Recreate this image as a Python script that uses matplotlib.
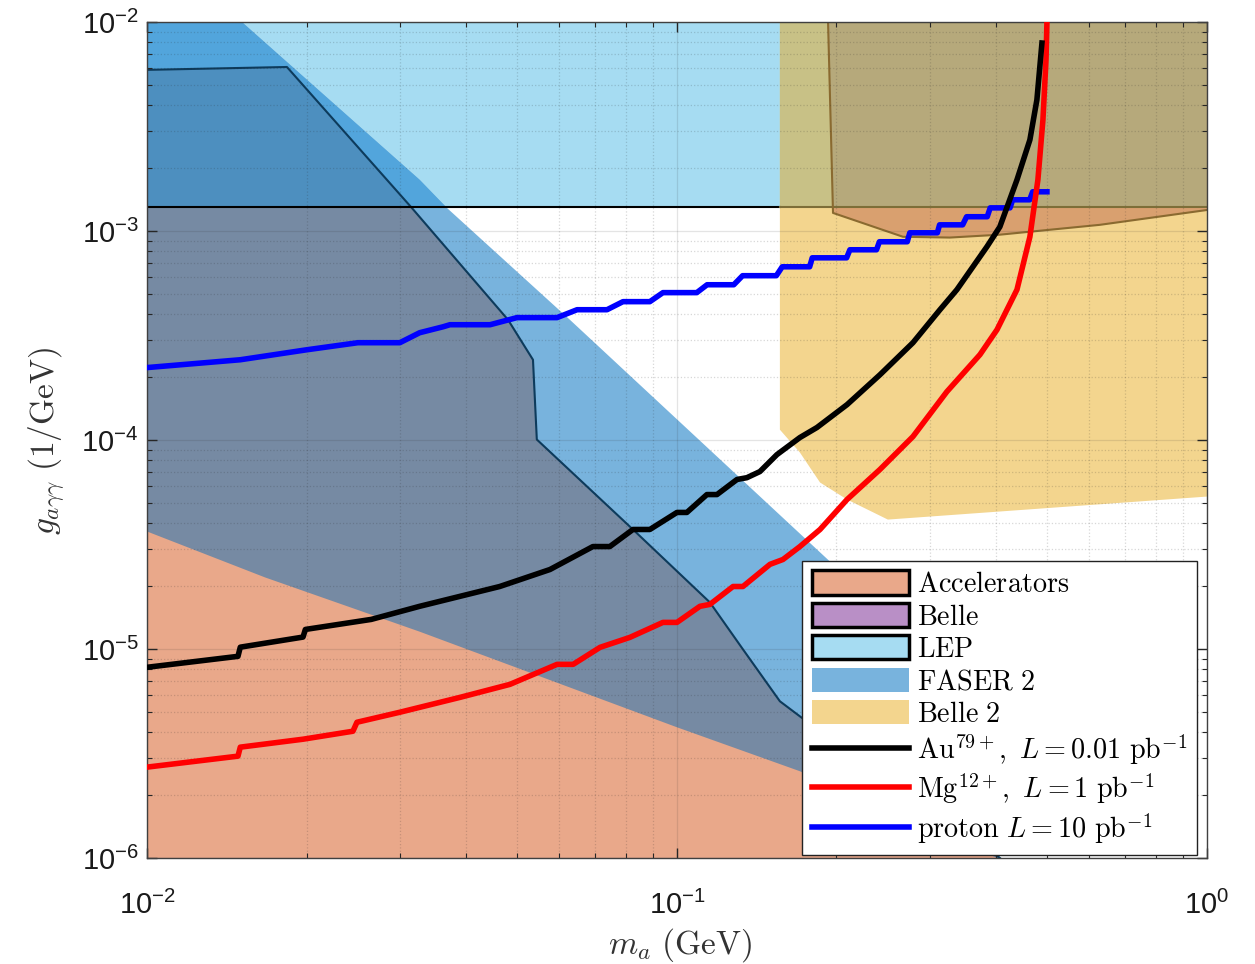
import numpy as np
import matplotlib.pyplot as plt
from matplotlib.patches import Patch, Rectangle
from matplotlib.lines import Line2D
from matplotlib.font_manager import FontProperties

plt.rcParams['font.family'] = ['Liberation Sans', 'DejaVu Sans']

# axis ranges
m_lim = (1e-2, 1.0)
g_lim = (1e-6, 1e-2)

# LEP bound (flat in m)
lep_g = 1.3e-3

# FASER 2 reach, upper diagonal edge
faser_m = [0.0151, 0.0327, 0.0368, 0.0628, 0.1862, 0.4067]
faser_g = [1.0e-2, 1.757e-3, 1.29e-3, 3.76e-4, 2.90e-5, 4.61e-6]

# beam dump excluded region, upper edge
dump_m = [0.01, 0.01837, 0.0316, 0.048, 0.0535, 0.0544, 0.0826, 0.1154, 0.1332, 0.1564, 0.1706, 0.2635, 0.4067]
dump_g = [5.9e-3, 6.09e-3, 1.29e-3, 3.76e-4, 2.42e-4, 1.005e-4, 3.73e-5, 1.67e-5, 9.96e-6, 5.62e-6, 4.76e-6, 2.13e-6, 1.0e-6]

# accelerators, upper edge
acc_m = [0.01, 0.0167, 0.0327, 0.100, 0.1706, 0.4017]
acc_g = [3.65e-5, 2.20e-5, 1.21e-5, 4.22e-6, 2.60e-6, 1.0e-6]

# Belle 2 reach, lower edge
belle2_m = [0.1564, 0.1564, 0.1706, 0.1862, 0.2094, 0.250, 1.0]
belle2_g = [1.0e-2, 1.12e-4, 8.71e-5, 6.26e-5, 5.19e-5, 4.16e-5, 5.36e-5]

# Belle, lower edge
belle_m = [0.1928, 0.197, 0.267, 0.3273, 0.4067, 0.628, 1.0]
belle_g = [1.0e-2, 1.22e-3, 9.38e-4, 9.3e-4, 9.6e-4, 1.07e-3, 1.26e-3]

# projected sensitivities
au_m = [0.010, 0.01485, 0.0150, 0.0197, 0.0199, 0.0265, 0.0327, 0.0463, 0.0576, 0.0694, 0.0747,
        0.0826, 0.0889, 0.100, 0.1044, 0.1139, 0.119, 0.1298, 0.1355, 0.1434, 0.1544, 0.1706,
        0.1837, 0.2094, 0.2415, 0.2788, 0.3135, 0.3375, 0.3845, 0.4067, 0.4381, 0.4634, 0.4777, 0.4883]
au_g = [8.17e-6, 9.22e-6, 1.02e-5, 1.14e-5, 1.24e-5, 1.385e-5, 1.60e-5, 1.99e-5, 2.40e-5, 3.09e-5, 3.09e-5,
        3.73e-5, 3.73e-5, 4.50e-5, 4.50e-5, 5.48e-5, 5.48e-5, 6.47e-5, 6.60e-5, 7.06e-5, 8.51e-5, 1.027e-4,
        1.147e-4, 1.476e-4, 2.05e-4, 2.92e-4, 4.20e-4, 5.24e-4, 8.41e-4, 1.047e-3, 1.757e-3, 2.73e-3, 4.24e-3, 7.93e-3]

mg_m = [0.010, 0.01485, 0.0150, 0.0197, 0.02447, 0.0249, 0.030, 0.039, 0.0484, 0.0594, 0.0637,
        0.0716, 0.0815, 0.0941, 0.100, 0.1105, 0.1154, 0.1276, 0.1332, 0.1498, 0.1585, 0.1706,
        0.1862, 0.2094, 0.2415, 0.2788, 0.3231, 0.373, 0.4017, 0.4381, 0.4634, 0.4798, 0.4904, 0.497, 0.499]
mg_g = [2.72e-6, 3.07e-6, 3.39e-6, 3.70e-6, 4.04e-6, 4.46e-6, 4.98e-6, 5.87e-6, 6.77e-6, 8.44e-6, 8.44e-6,
        1.018e-5, 1.136e-5, 1.34e-5, 1.34e-5, 1.60e-5, 1.634e-5, 1.99e-5, 1.99e-5, 2.54e-5, 2.68e-5, 3.09e-5,
        3.73e-5, 5.19e-5, 7.22e-5, 1.038e-4, 1.703e-4, 2.56e-4, 3.37e-4, 5.24e-4, 9.38e-4, 1.757e-3, 3.40e-3, 6.58e-3, 1.0e-2]

p_m = [0.010, 0.015, 0.020, 0.025, 0.030, 0.0327, 0.0362, 0.0373, 0.0444, 0.0499, 0.0594, 0.0648, 0.0738,
       0.0791, 0.0889, 0.0941, 0.109, 0.114, 0.128, 0.133, 0.154, 0.158, 0.178, 0.180, 0.209, 0.212,
       0.238, 0.241, 0.272, 0.275, 0.310, 0.313, 0.346, 0.352, 0.385, 0.390, 0.425, 0.430, 0.463, 0.469, 0.499]
p_g = [2.22e-4, 2.42e-4, 2.70e-4, 2.92e-4, 2.92e-4, 3.26e-4, 3.48e-4, 3.56e-4, 3.56e-4, 3.85e-4, 3.85e-4,
       4.20e-4, 4.20e-4, 4.59e-4, 4.59e-4, 5.07e-4, 5.07e-4, 5.53e-4, 5.53e-4, 6.11e-4, 6.11e-4, 6.74e-4,
       6.74e-4, 7.44e-4, 7.44e-4, 8.13e-4, 8.13e-4, 8.88e-4, 8.88e-4, 9.80e-4, 9.80e-4, 1.07e-3, 1.07e-3,
       1.17e-3, 1.17e-3, 1.29e-3, 1.29e-3, 1.41e-3, 1.41e-3, 1.54e-3, 1.54e-3]

c_acc = '#E9A88A'
c_belle = '#B98FC6'
c_lep = '#A6DCF2'
c_faser = '#78B3DD'
c_belle2 = '#F3D58E'

fig = plt.figure(figsize=(12.55, 9.64), dpi=100)
ax = fig.add_axes([0.1171, 0.1100, 0.8446, 0.8672])
ax.set_xscale('log')
ax.set_yscale('log')
ax.set_xlim(*m_lim)
ax.set_ylim(*g_lim)

lep_box = Rectangle((m_lim[0], lep_g), m_lim[1] - m_lim[0], g_lim[1] - lep_g, transform=ax.transData)


def split_fill(xs, ys, below, above):
    # same polygon, darker where it sits on top of the LEP band
    ax.fill(xs, ys, color=below, lw=0, zorder=1)
    for p in ax.fill(xs, ys, color=above, lw=0, zorder=1):
        p.set_clip_path(lep_box)


# LEP
ax.fill([m_lim[0], m_lim[1], m_lim[1], m_lim[0]], [lep_g, lep_g, g_lim[1], g_lim[1]],
        color=c_lep, lw=0, zorder=1)
# FASER 2
split_fill([m_lim[0]] + faser_m + [faser_m[-1], m_lim[0]],
           [g_lim[1]] + faser_g + [g_lim[0], g_lim[0]], c_faser, '#52A5DC')
# Belle 2
split_fill(belle2_m + [m_lim[1]], belle2_g + [g_lim[1]], c_belle2, '#C8C186')
# Belle
split_fill(belle_m + [m_lim[1]], belle_g + [g_lim[1]], '#D9A06F', '#B6A97B')
# beam dumps
split_fill(dump_m + [m_lim[0]], dump_g + [g_lim[0]], '#768AA3', '#4D8FBF')
ax.plot(dump_m, dump_g, color='#0D3B5C', lw=1.5, zorder=1.2)
# accelerators
ax.fill(acc_m + [m_lim[0]], acc_g + [g_lim[0]], color=c_acc, lw=0, zorder=1.1)

# edges
ax.plot([m_lim[0], belle2_m[0]], [lep_g, lep_g], color='k', lw=1.5, zorder=1.3)
ax.plot([belle2_m[0], m_lim[1]], [lep_g, lep_g], color='#7D6E38', lw=1.5, zorder=1.3)
ax.plot(belle_m, belle_g, color='#8A6A30', lw=1.5, zorder=1.3)

# sensitivity curves
ax.plot(p_m, p_g, color='#0000FF', lw=4.0, zorder=3)
ax.plot(mg_m, mg_g, color='#FF0000', lw=4.0, zorder=3)
ax.plot(au_m, au_g, color='k', lw=4.0, zorder=3)

# grid and ticks
ax.set_axisbelow('line')
ax.grid(True, which='major', color='#262626', alpha=0.12, lw=0.9, ls='-')
ax.grid(True, which='minor', color='#262626', alpha=0.18, lw=0.9, ls=':')
ax.tick_params(which='both', direction='in', top=True, right=True, colors='#262626')
ax.tick_params(which='major', length=7, width=1.0)
ax.tick_params(which='minor', length=3.5, width=0.8)
ax.tick_params(axis='x', which='major', labelsize=21, pad=24, labelcolor='#1a1a1a')
ax.tick_params(axis='y', which='major', labelsize=21, pad=6, labelcolor='#1a1a1a')
for s in ax.spines.values():
    s.set_color('#404040')
    s.set_linewidth(1.0)

ax.set_xlabel(r'$m_a\ (\mathrm{GeV})$', fontsize=24, math_fontfamily='cm', color='#333333')
ax.xaxis.label.set_va('center')
ax.xaxis.set_label_coords(0.503, -0.104)
ax.set_ylabel(r'$g_{a\gamma\gamma}\ (1/\mathrm{GeV})$', fontsize=24, math_fontfamily='cm', color='#333333')
ax.yaxis.label.set_va('center')
ax.yaxis.set_label_coords(-0.094, 0.499)

handles = [
    Patch(facecolor=c_acc, edgecolor='k', lw=2.5),
    Patch(facecolor=c_belle, edgecolor='k', lw=2.5),
    Patch(facecolor=c_lep, edgecolor='k', lw=2.5),
    Patch(facecolor=c_faser, edgecolor='none'),
    Patch(facecolor=c_belle2, edgecolor='none'),
    Line2D([], [], color='k', lw=4.0),
    Line2D([], [], color='#FF0000', lw=4.0),
    Line2D([], [], color='#0000FF', lw=4.0),
]
labels = [
    r'$\mathrm{Accelerators}$',
    r'$\mathrm{Belle}$',
    r'$\mathrm{LEP}$',
    r'$\mathrm{FASER\ 2}$',
    r'$\mathrm{Belle\ 2}$',
    r'$\mathrm{Au}^{79+},\ L = 0.01\ \mathrm{pb}^{-1}$',
    r'$\mathrm{Mg}^{12+},\ L = 1\ \mathrm{pb}^{-1}$',
    r'$\mathrm{proton}\ L = 10\ \mathrm{pb}^{-1}$',
]
leg = ax.legend(handles, labels, loc='lower right', bbox_to_anchor=(0.9906, 0.0036),
                borderaxespad=0, prop=FontProperties(size=20.3, math_fontfamily='cm'),
                handlelength=3.45, handleheight=0.95, handletextpad=0.3, labelspacing=0.16,
                borderpad=0.33, fancybox=False, framealpha=1, edgecolor='#222222')
leg.get_frame().set_linewidth(1.0)
leg.set_zorder(5)

fig.savefig('out.png', dpi=100)
